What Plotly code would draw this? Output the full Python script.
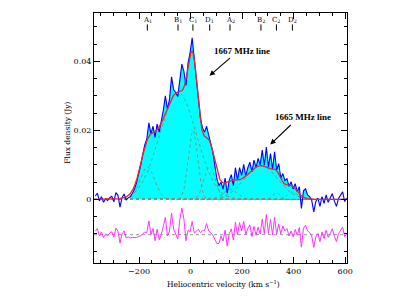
import numpy as np
import plotly.graph_objects as go

# ---------------- data ----------------
# observed spectrum: first channel velocity and channel width (km/s)
V_START = -370.0
V_STEP = 8.0
flux = [
    0.0010, 0.0018, -0.0004, 0.0008, -0.0008, 0.0002, -0.0003, 0.0005, 0.0009, -0.0007,
    0.0020, 0.0012, -0.0022, 0.0006, 0.0016, -0.0002, 0.0005, 0.0008, 0.0018, 0.0030,
    0.0048, 0.0072, 0.0098, 0.0130, 0.0158, 0.0175, 0.0222, 0.0190, 0.0212, 0.0180,
    0.0218, 0.0195, 0.0222, 0.0258, 0.0300, 0.0262, 0.0290, 0.0355, 0.0318, 0.0310,
    0.0298, 0.0355, 0.0392, 0.0370, 0.0330, 0.0395, 0.0425, 0.0468, 0.0412, 0.0360,
    0.0300, 0.0235, 0.0208, 0.0195, 0.0212, 0.0185, 0.0165, 0.0138, 0.0098, 0.0060,
    0.0040, 0.0050, 0.0030, 0.0062, 0.0018, 0.0056, 0.0072, 0.0040, 0.0092, 0.0056,
    0.0092, 0.0070, 0.0102, 0.0068, 0.0092, 0.0108, 0.0080, 0.0114, 0.0092, 0.0119,
    0.0100, 0.0143, 0.0099, 0.0152, 0.0094, 0.0133, 0.0088, 0.0138, 0.0085, 0.0104,
    0.0062, 0.0075, 0.0055, 0.0060, 0.0038, 0.0051, 0.0031, 0.0046, 0.0022, 0.0037,
    -0.0026, 0.0025, 0.0031, 0.0013, 0.0008, -0.0002, -0.0036, -0.0006, 0.0004, -0.0020,
    0.0008, -0.0011, 0.0013, -0.0008, 0.0004, 0.0017, -0.0005, -0.0020, 0.0003, 0.0012,
    0.0022, -0.0006, 0.0004,
]

# Gaussian fit components (labels on the top axis mark their centres)
comp_labels = ["A<sub>1</sub>", "B<sub>1</sub>", "C<sub>1</sub>", "D<sub>1</sub>",
               "A<sub>2</sub>", "B<sub>2</sub>", "C<sub>2</sub>", "D<sub>2</sub>"]
comp_center = [-168, -49, 9, 74, 153, 273, 333, 395]
comp_amp = [0.0094, 0.031, 0.020, 0.0095, 0.0030, 0.0098, 0.0020, 0.0022]
comp_sigma = [28, 72, 18, 22, 28, 65, 14, 20]

# annotation texts
line_labels = ["1667 MHz line", "1665 MHz line"]

# ---------------- layout constants ----------------
RESID_OFFSET = -0.0102
FILL_LO, FILL_HI = -236, 472
X_RANGE = [-375, 607]
Y_RANGE = [-0.0184, 0.054]
SERIF = "DejaVu Serif"

v = V_START + V_STEP * np.arange(len(flux))
f = np.array(flux)
vfine = np.arange(X_RANGE[0], X_RANGE[1] + 1, 2.0)


def gauss(x, a, c, s):
    return a * np.exp(-0.5 * ((np.asarray(x) - c) / s) ** 2)


comps_fine = [gauss(vfine, a, c, s) for a, c, s in zip(comp_amp, comp_center, comp_sigma)]
model_fine = np.sum(comps_fine, axis=0)
model_chan = np.sum([gauss(v, a, c, s) for a, c, s in zip(comp_amp, comp_center, comp_sigma)], axis=0)
resid = f - model_chan

fig = go.Figure()

# cyan fill under the detected emission
mask = (v >= FILL_LO) & (v <= FILL_HI)
fig.add_trace(go.Scatter(x=v[mask], y=f[mask], mode="lines", fill="tozeroy",
                         fillcolor="#00ffff", line=dict(width=0), hoverinfo="skip"))

# zero lines (dotted)
fig.add_trace(go.Scatter(x=X_RANGE, y=[0, 0], mode="lines",
                         line=dict(color="rgb(130,130,130)", width=1, dash="dot")))
fig.add_trace(go.Scatter(x=X_RANGE, y=[RESID_OFFSET, RESID_OFFSET], mode="lines",
                         line=dict(color="rgb(150,150,150)", width=1, dash="dot")))

# gaussian components
for cf in comps_fine:
    fig.add_trace(go.Scatter(x=vfine, y=cf, mode="lines",
                             line=dict(color="rgb(120,150,120)", width=1, dash="dot")))

# data
fig.add_trace(go.Scatter(x=v, y=f, mode="lines", line=dict(color="#0000ff", width=1.1)))
# fit
fig.add_trace(go.Scatter(x=vfine, y=model_fine, mode="lines",
                         line=dict(color="#ee2233", width=1.3)))
# residuals
fig.add_trace(go.Scatter(x=v, y=resid + RESID_OFFSET, mode="lines",
                         line=dict(color="#ff33ff", width=1)))

annotations = []
shapes = []
# component markers on top
for lab, c in zip(comp_labels, comp_center):
    shapes.append(dict(type="line", xref="x", yref="y", x0=c, x1=c, y0=0.0489, y1=0.0507,
                       line=dict(color="black", width=1)))
    annotations.append(dict(x=c, y=0.0521, xref="x", yref="y", text=lab, showarrow=False,
                            xanchor="center", yanchor="middle",
                            font=dict(family=SERIF, size=7, color="black")))

# line labels and arrows
annotations.append(dict(x=199, y=0.0431, xref="x", yref="y", text="<b>" + line_labels[0] + "</b>",
                        showarrow=False, xanchor="center", yanchor="middle",
                        font=dict(family="Liberation Serif", size=9, color="black")))
annotations.append(dict(x=73, y=0.0358, xref="x", yref="y", text="", showarrow=True,
                        ax=22, ay=-19, axref="pixel", ayref="pixel",
                        arrowhead=2, arrowsize=1, arrowwidth=1.1, arrowcolor="black"))
annotations.append(dict(x=436, y=0.0239, xref="x", yref="y", text="<b>" + line_labels[1] + "</b>",
                        showarrow=False, xanchor="center", yanchor="middle",
                        font=dict(family="Liberation Serif", size=9, color="black")))
annotations.append(dict(x=309, y=0.0159, xref="x", yref="y", text="", showarrow=True,
                        ax=22, ay=-21, axref="pixel", ayref="pixel",
                        arrowhead=2, arrowsize=1, arrowwidth=1.1, arrowcolor="black"))

# axis titles
annotations.append(dict(x=0.511, y=-0.085, xref="paper", yref="paper",
                        xanchor="center", yanchor="middle",
                        text="Heliocentric velocity (km s<sup>\u22121</sup>)", showarrow=False,
                        font=dict(family=SERIF, size=7.5, color="black")))
annotations.append(dict(x=-0.108, y=0.52, xref="paper", yref="paper",
                        xanchor="center", yanchor="middle",
                        text="Flux density (Jy)", showarrow=False, textangle=-90,
                        font=dict(family=SERIF, size=7.5, color="black")))

axis_common = dict(showline=True, linecolor="black", linewidth=1, mirror="allticks",
                   ticks="inside", tickcolor="black", showgrid=False, zeroline=False,
                   tickfont=dict(family=SERIF, size=8, color="black"))

# the page body adds an 8 px offset, so the figure is sized to compensate
fig.update_layout(
    width=411, height=288,
    margin=dict(l=86, r=72, t=5, b=33),
    paper_bgcolor="white", plot_bgcolor="white",
    showlegend=False,
    xaxis=dict(range=X_RANGE, tick0=0, dtick=200, ticklen=6,
               minor=dict(dtick=50, tick0=0, ticklen=3, ticks="inside", tickcolor="black"),
               **axis_common),
    yaxis=dict(range=Y_RANGE, tick0=0, dtick=0.02, ticklen=6,
               minor=dict(dtick=0.005, tick0=0, ticklen=3, ticks="inside", tickcolor="black"),
               **axis_common),
    annotations=annotations,
    shapes=shapes,
)

fig.write_html("out.html")
